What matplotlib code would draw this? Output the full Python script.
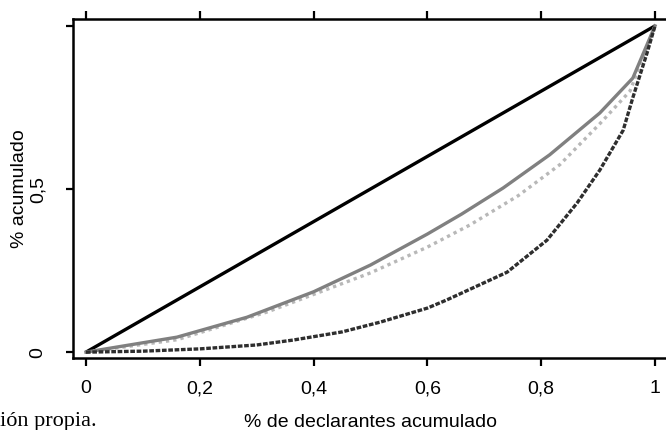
import matplotlib
matplotlib.use("Agg")
import matplotlib.pyplot as plt

# cumulative share of declarants (x) vs cumulative share (y)
equal_x = [0, 1]
equal_y = [0, 1]

gray_x = [0, 0.16, 0.283, 0.40, 0.50, 0.60, 0.66, 0.733, 0.815, 0.903, 0.961, 1.0]
gray_y = [0, 0.046, 0.107, 0.185, 0.267, 0.362, 0.423, 0.503, 0.605, 0.733, 0.84, 1.0]

light_x = [0, 0.16, 0.32, 0.50, 0.60, 0.675, 0.76, 0.833, 0.903, 0.956, 1.0]
light_y = [0, 0.038, 0.124, 0.243, 0.322, 0.39, 0.48, 0.575, 0.7, 0.80, 1.0]

dark_x = [0, 0.1, 0.2, 0.3, 0.364, 0.45, 0.517, 0.6, 0.634, 0.74, 0.81, 0.863,
          0.903, 0.944, 0.961, 0.986, 1.0]
dark_y = [0, 0.003, 0.01, 0.022, 0.037, 0.062, 0.092, 0.135, 0.16, 0.245, 0.343,
          0.457, 0.558, 0.68, 0.78, 0.917, 1.0]

x_ticks = [0, 0.2, 0.4, 0.6, 0.8, 1]
x_labels = ["0", "0,2", "0,4", "0,6", "0,8", "1"]
y_ticks = [0, 0.5, 1]
y_labels = ["0", "0,5", ""]

plt.rcParams['font.family'] = ['Liberation Sans', 'DejaVu Sans']

fig = plt.figure(figsize=(6.66, 4.30), dpi=100)
ax = fig.add_axes([0.1096, 0.1674, 0.8934, 0.7884])

ax.plot(equal_x, equal_y, color='black', lw=2.4, solid_capstyle='butt')
ax.plot(light_x, light_y, color='#b8b8b8', lw=2.4, linestyle=(0, (1.0, 1.2)))
ax.plot(gray_x, gray_y, color='#808080', lw=2.4)
ax.plot(dark_x, dark_y, color='#2e2e2e', lw=2.4, linestyle=(0, (1.4, 0.5)))

ax.set_xlim(-0.0228, 1.0228)
ax.set_ylim(-0.018, 1.021)

for side in ['left', 'top', 'bottom']:
    ax.spines[side].set_linewidth(1.8)
ax.spines['right'].set_visible(False)

ax.set_xticks(x_ticks)
ax.set_xticklabels(x_labels, fontsize=14)
ax.set_yticks(y_ticks)
ax.set_yticklabels(y_labels, fontsize=14, rotation=90, va='center')
ax.tick_params(axis='x', direction='out', length=6, width=1.6, pad=10,
               top=True, labeltop=False)
ax.tick_params(axis='y', direction='out', length=5, width=1.6, pad=14)

ax.set_xlabel('% de declarantes acumulado', fontsize=14, labelpad=12)
ax.set_ylabel('% acumulado', fontsize=14, labelpad=1)

fig.text(0.0, 0.02, 'ión propia.', ha='left', va='center',
         fontsize=16, family=['Liberation Serif', 'DejaVu Serif'])

fig.savefig('out.png', dpi=100)
